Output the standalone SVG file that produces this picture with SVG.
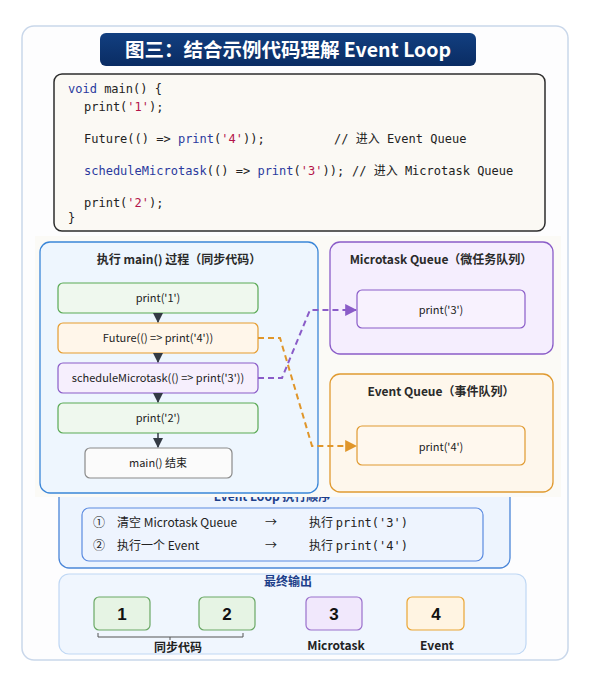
<svg xmlns="http://www.w3.org/2000/svg" width="594" height="684" viewBox="0 0 594 684">
<defs>
<linearGradient id="ban" x1="0" y1="0" x2="0" y2="1"><stop offset="0" stop-color="#123f80"/><stop offset="1" stop-color="#0a2c63"/></linearGradient>
<marker id="ah" viewBox="0 0 10 10" refX="9" refY="5" markerWidth="7" markerHeight="7" orient="auto"><path d="M0,0 L10,5 L0,10 z" fill="#333a44"/></marker>
<marker id="ap" viewBox="0 0 10 10" refX="9" refY="5" markerWidth="6" markerHeight="6" orient="auto"><path d="M0,0 L10,5 L0,10 z" fill="#8a5cc8"/></marker>
<marker id="ao" viewBox="0 0 10 10" refX="9" refY="5" markerWidth="6" markerHeight="6" orient="auto"><path d="M0,0 L10,5 L0,10 z" fill="#e0962a"/></marker>
</defs>
<style>
.mono{font-family:"DejaVu Sans Mono","Liberation Mono","Noto Sans CJK SC",monospace;font-size:12px;fill:#222}
.kw{fill:#2a3a9e}
.str{fill:#b3144a}
.sans{font-family:"Noto Sans CJK SC","Noto Sans",sans-serif;fill:#222}
.t{font-family:"Noto Sans CJK SC","Noto Sans",sans-serif;font-size:12px;font-weight:bold;fill:#2a2a2a;text-anchor:middle}
.n{font-family:"Noto Sans CJK SC","Noto Sans",sans-serif;font-size:11px;fill:#222;text-anchor:middle}
.g{fill:#eff8ee;stroke:#5aa955;stroke-width:1.2}
.o{fill:#fff6ea;stroke:#e59c2f;stroke-width:1.2}
.p{fill:#f6effd;stroke:#8a5cc8;stroke-width:1.2}
.w{fill:#fbfbfb;stroke:#8a8a8a;stroke-width:1.2}
.num{font-family:"Liberation Sans",Arial,sans-serif;font-size:17px;font-weight:bold;fill:#111;text-anchor:middle}
.lbl{font-family:"Noto Sans CJK SC","Liberation Sans",sans-serif;font-size:12px;font-weight:bold;fill:#222;text-anchor:middle}
</style>
<rect x="0" y="0" width="594" height="684" fill="#ffffff"/>
<rect id="card" x="22" y="26" width="546" height="634" rx="12" fill="#fdfdfe" stroke="#c9d7ea" stroke-width="1.5"/>
<g id="title">
<rect x="100" y="33" width="376" height="33" rx="6" fill="url(#ban)"/>
<text x="288" y="56.5" text-anchor="middle" font-family="Noto Sans CJK SC,Noto Sans,sans-serif" font-size="19.5" font-weight="bold" fill="#ffffff">图三：结合示例代码理解 Event Loop</text>
</g>
<g id="code">
<rect x="54" y="74" width="491" height="157" rx="8" fill="#fbf9f4" stroke="#2c2c2c" stroke-width="1.5"/>
<text class="mono" x="68" y="93"><tspan class="kw">void</tspan> main() {</text>
<text class="mono" x="84" y="111">print(<tspan class="str">'1'</tspan>);</text>
<text class="mono" x="84" y="143">Future(() =&gt; <tspan class="kw">print</tspan>(<tspan class="str">'4'</tspan>));</text>
<text class="mono" x="334" y="143">// 进入 Event Queue</text>
<text class="mono" x="84" y="175"><tspan class="kw">scheduleMicrotask</tspan>(() =&gt; <tspan class="kw">print</tspan>(<tspan class="str">'3'</tspan>));</text>
<text class="mono" x="352" y="175">// 进入 Microtask Queue</text>
<text class="mono" x="84" y="207">print(<tspan class="str">'2'</tspan>);</text>
<text class="mono" x="68" y="222">}</text>
</g>
<g id="eventloop">
<rect x="59" y="470" width="451" height="98" rx="10" fill="#edf4fe" stroke="#4a86d8" stroke-width="1.3"/>
<text x="272" y="501" text-anchor="middle" font-family="Noto Sans CJK SC,Noto Sans,sans-serif" font-size="12" font-weight="bold" fill="#1d3f8a">Event Loop 执行顺序</text>
<rect x="82" y="508" width="401" height="53" rx="7" fill="#eef4fe" stroke="#5a8ae0" stroke-width="1.2"/>
<text class="sans" font-size="12" x="93" y="527">①</text>
<text class="sans" font-size="12" x="117" y="527">清空 Microtask Queue</text>
<text class="sans" font-size="12" x="265" y="527">→</text>
<text class="sans" font-size="12" x="309" y="527">执行 <tspan font-family="DejaVu Sans Mono,monospace">print('3')</tspan></text>
<text class="sans" font-size="12" x="93" y="550">②</text>
<text class="sans" font-size="12" x="117" y="550">执行一个 Event</text>
<text class="sans" font-size="12" x="265" y="550">→</text>
<text class="sans" font-size="12" x="309" y="550">执行 <tspan font-family="DejaVu Sans Mono,monospace">print('4')</tspan></text>
</g>
<rect id="midpanel" x="35" y="236" width="526" height="261" fill="#fbfaf6"/>
<g id="mainproc">
<rect x="40" y="242" width="278" height="251" rx="10" fill="#eef6fe" stroke="#3a86d8" stroke-width="1.3"/>
<text class="t" x="179" y="264">执行 main() 过程（同步代码）</text>
</g>
<g id="n1"><rect class="g" x="58" y="283" width="200" height="30" rx="5"/><text class="n" x="158" y="302">print('1')</text></g>
<g id="n2"><rect class="o" x="58" y="323" width="200" height="30" rx="5"/><text class="n" x="158" y="342">Future(() =&gt; print('4'))</text></g>
<g id="n3"><rect class="p" x="58" y="363" width="200" height="30" rx="5"/><text class="n" x="158" y="382">scheduleMicrotask(() =&gt; print('3'))</text></g>
<g id="n4"><rect class="g" x="58" y="403" width="200" height="30" rx="5"/><text class="n" x="158" y="422">print('2')</text></g>
<g id="n5"><rect class="w" x="85" y="448" width="147" height="30" rx="5"/><text class="n" x="158" y="467">main() 结束</text></g>
<g id="mq">
<rect x="330" y="242" width="223" height="112" rx="10" fill="#f5eefe" stroke="#8a5cc8" stroke-width="1.3"/>
<text class="t" x="441" y="264">Microtask Queue（微任务队列）</text>
<rect x="357" y="290" width="168" height="38" rx="5" fill="#f8f2fe" stroke="#8a5cc8" stroke-width="1.2"/>
<text class="n" x="441" y="314" font-size="12">print('3')</text>
</g>
<g id="eq">
<rect x="330" y="374" width="223" height="118" rx="10" fill="#fef7ec" stroke="#e09a30" stroke-width="1.3"/>
<text class="t" x="441" y="396">Event Queue（事件队列）</text>
<rect x="357" y="426" width="168" height="39" rx="5" fill="#fff8ee" stroke="#e09a30" stroke-width="1.2"/>
<text class="n" x="441" y="451" font-size="12">print('4')</text>
</g>
<g id="connectors" fill="none">
<path d="M158,313 V322" stroke="#333a44" stroke-width="1.5" marker-end="url(#ah)"/>
<path d="M158,353 V362" stroke="#333a44" stroke-width="1.5" marker-end="url(#ah)"/>
<path d="M158,393 V402" stroke="#333a44" stroke-width="1.5" marker-end="url(#ah)"/>
<path d="M158,433 V447" stroke="#333a44" stroke-width="1.5" marker-end="url(#ah)"/>
<path d="M258,338 H280 L312,446 H356" stroke="#e0962a" stroke-width="2" stroke-dasharray="6,4" marker-end="url(#ao)"/>
<path d="M258,378 H282 L310,310 H356" stroke="#8a5cc8" stroke-width="2" stroke-dasharray="6,4" marker-end="url(#ap)"/>
</g>
<g id="output">
<rect x="59" y="574" width="467" height="80" rx="10" fill="#f0f6fe" stroke="#c0d8f4" stroke-width="1.2"/>
<text x="288" y="586" text-anchor="middle" font-family="Noto Sans CJK SC,Noto Sans,sans-serif" font-size="12" font-weight="bold" fill="#1d3f8a">最终输出</text>
<g id="o1"><rect x="94" y="597" width="56" height="33" rx="5" fill="#e6f4e4" stroke="#6aa865" stroke-width="1.2"/><text class="num" x="122" y="620">1</text></g>
<g id="o2"><rect x="199" y="597" width="56" height="33" rx="5" fill="#e6f4e4" stroke="#6aa865" stroke-width="1.2"/><text class="num" x="227" y="620">2</text></g>
<g id="o3"><rect x="306" y="597" width="56" height="33" rx="5" fill="#f1e8fc" stroke="#9a70cc" stroke-width="1.2"/><text class="num" x="334" y="620">3</text></g>
<g id="o4"><rect x="407" y="597" width="57" height="33" rx="5" fill="#fff4e2" stroke="#eaa534" stroke-width="1.2"/><text class="num" x="436" y="620">4</text></g>
<path d="M98,633 V637 H243 V633 M170,637 V640" fill="none" stroke="#555" stroke-width="1"/>
<text class="lbl" x="178" y="652">同步代码</text>
<text class="lbl" x="336" y="650">Microtask</text>
<text class="lbl" x="437" y="650">Event</text>
</g>
</svg>
